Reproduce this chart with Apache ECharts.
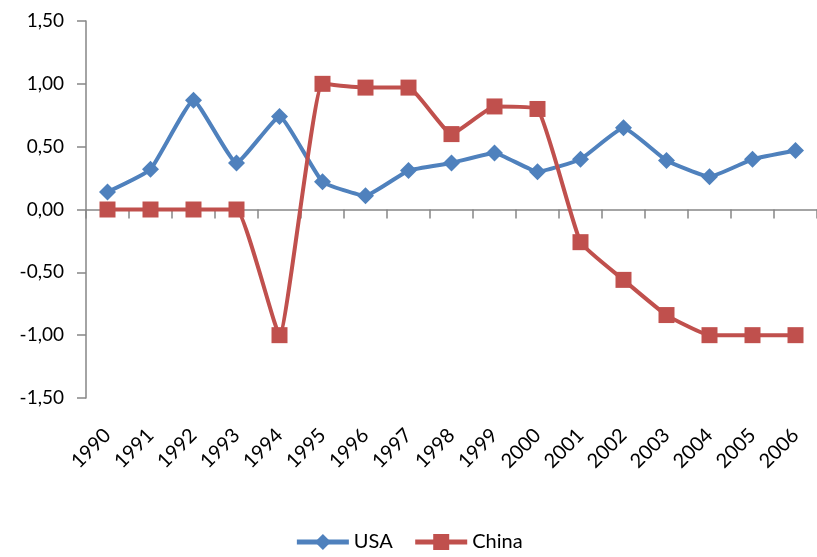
<!DOCTYPE html>
<html lang="en">
<head>
    <meta charset="UTF-8">
    <title>USA vs China</title>
    <script src="https://cdn.jsdelivr.net/npm/echarts@6/dist/echarts.min.js"></script>
    <style>
        * { margin: 0; padding: 0; }
        body { background: #fff; }
        #chart { width: 817px; height: 557px; }
    </style>
</head>
<body>
<div id="chart"></div>
<script>
    // data
    var years = ['1990', '1991', '1992', '1993', '1994', '1995', '1996', '1997', '1998',
                 '1999', '2000', '2001', '2002', '2003', '2004', '2005', '2006'];
    var usa = [0.14, 0.32, 0.87, 0.37, 0.74, 0.22, 0.11, 0.31, 0.37,
               0.45, 0.30, 0.40, 0.65, 0.39, 0.26, 0.40, 0.47];
    var china = [0, 0, 0, 0, -1.00, 1.00, 0.97, 0.97, 0.60,
                 0.82, 0.80, -0.26, -0.56, -0.84, -1.00, -1.00, -1.00];

    var font = 'Lato, "Open Sans", sans-serif';
    var axisGrey = '#868686';

    var myChart = echarts.init(document.getElementById('chart'));
    myChart.setOption({
        animation: false,
        grid: { left: 86, top: 21, width: 743, height: 377 },
        legend: {
            bottom: 0,
            left: 'center',
            itemWidth: 52,
            itemHeight: 20,
            itemGap: 20,
            lineStyle: { width: 5 },
            textStyle: { fontFamily: font, fontSize: 20, color: '#000' },
            data: ['USA', 'China']
        },
        xAxis: [{
            type: 'category',
            data: years,
            axisLine: { onZero: true, lineStyle: { color: axisGrey, width: 1.5 } },
            axisTick: { show: true, length: 9, lineStyle: { color: axisGrey, width: 1.5 } },
            axisLabel: { show: false }
        }, {
            type: 'category',
            data: years,
            position: 'bottom',
            axisLine: { show: false, onZero: false },
            axisTick: { show: false },
            axisLabel: {
                rotate: 45,
                margin: 34,
                color: '#000',
                fontFamily: font,
                fontSize: 20
            }
        }],
        yAxis: {
            type: 'value',
            min: -1.5,
            max: 1.5,
            interval: 0.5,
            splitLine: { show: false },
            axisLine: { show: true, lineStyle: { color: axisGrey, width: 1.5 } },
            axisTick: { show: true, length: 9, lineStyle: { color: axisGrey, width: 1.5 } },
            axisLabel: {
                margin: 22,
                color: '#000',
                fontFamily: font,
                fontSize: 19,
                formatter: function (v) { return v.toFixed(2).replace('.', ','); }
            }
        },
        series: [{
            name: 'USA',
            type: 'line',
            data: usa,
            smooth: 0.12,
            symbol: 'diamond',
            symbolSize: 17,
            showAllSymbol: true,
            color: '#4F81BD',
            lineStyle: { width: 4 },
            itemStyle: { color: '#4F81BD' }
        }, {
            name: 'China',
            type: 'line',
            data: china,
            smooth: 0.12,
            symbol: 'rect',
            symbolSize: 16,
            showAllSymbol: true,
            color: '#C0504D',
            lineStyle: { width: 4 },
            itemStyle: { color: '#C0504D' }
        }]
    });
</script>
</body>
</html>
